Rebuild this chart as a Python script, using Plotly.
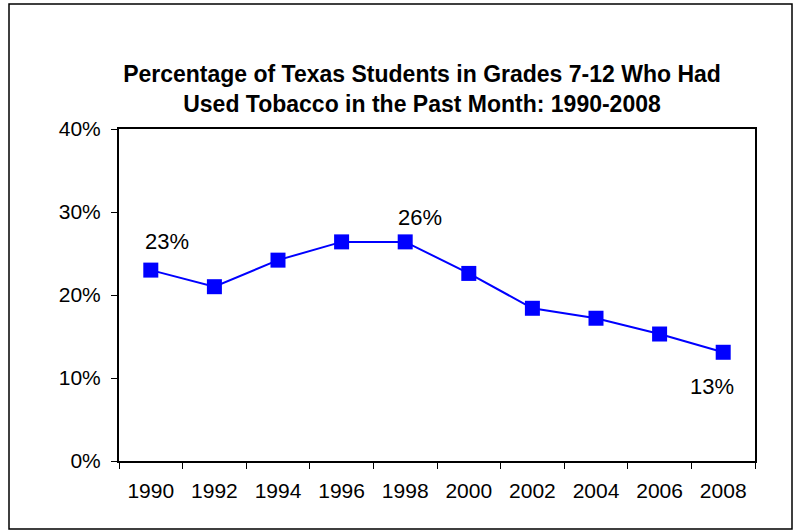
import plotly.graph_objects as go

# Survey years and past-month tobacco use (%)
years = ["1990", "1992", "1994", "1996", "1998", "2000", "2002", "2004", "2006", "2008"]
pct = [23.0, 21.0, 24.2, 26.4, 26.4, 22.6, 18.4, 17.2, 15.3, 13.1]

# Years that carry a value label, and where the label sits
labelled = {"1990": "above", "1998": "above", "2008": "below"}

y_ticks = [0, 10, 20, 30, 40]
y_tick_text = [f"{v}%" for v in y_ticks]

W, H = 794, 531
ML, MR, MT, MB = 119, 39, 129, 70
FONT = "Liberation Sans, Arial, sans-serif"

pos = list(range(len(years)))

fig = go.Figure()
fig.add_trace(go.Scatter(
    x=pos, y=pct, mode="lines+markers",
    line=dict(color="#0000FF", width=2),
    marker=dict(symbol="square", size=15, color="#0000FF"),
    showlegend=False, hoverinfo="skip",
))

label_shift = {"1990": (16, 29), "1998": (15, 24), "2008": (-11, -34)}
for yr, where in labelled.items():
    i = years.index(yr)
    v = pct[i]
    dx, dy = label_shift[yr]
    fig.add_annotation(
        x=i, y=v, text=f"{round(v):d}%", showarrow=False,
        font=dict(family=FONT, size=22, color="black"),
        xshift=dx, yshift=dy,
    )

pw = W - ML - MR
ph = H - MT - MB
# Outer frame around the whole chart
fig.add_shape(
    type="rect", xref="paper", yref="paper",
    x0=(9 - ML) / pw, x1=(792 - ML) / pw,
    y0=-(529 - MT - ph) / ph, y1=1 + (MT - 4) / ph,
    line=dict(color="black", width=1.5), layer="below",
)

fig.update_layout(
    width=W, height=H,
    margin=dict(l=ML, r=MR, t=MT, b=MB),
    paper_bgcolor="white", plot_bgcolor="white",
    font=dict(family=FONT, color="black", size=21),
    title=dict(
        text="<b>Percentage of Texas Students in Grades 7-12 Who Had<br>Used Tobacco in the Past Month: 1990-2008</b>",
        x=422 / W, xanchor="center", y=1 - 82 / H, yanchor="top",
        font=dict(family=FONT, size=23, color="black"),
    ),
    xaxis=dict(
        range=[-0.5, len(years) - 0.5], tickvals=pos, ticktext=years,
        ticks="", showline=True, linecolor="black", linewidth=1.5,
        mirror=True, showgrid=False, zeroline=False,
        minor=dict(tickvals=[p - 0.5 for p in pos] + [len(years) - 0.5],
                   ticks="outside", ticklen=6, tickcolor="black", showgrid=False),
        tickfont=dict(family=FONT, size=21), fixedrange=True,
        ticklabelstandoff=10,
    ),
    yaxis=dict(
        range=[0, 40], tickvals=y_ticks, ticktext=y_tick_text,
        ticks="outside", ticklen=6, tickcolor="black",
        showline=True, linecolor="black", linewidth=2, mirror=True,
        showgrid=False, zeroline=False, ticklabelstandoff=6,
        tickfont=dict(family=FONT, size=21), fixedrange=True,
    ),
)

fig.write_html("out.html")
